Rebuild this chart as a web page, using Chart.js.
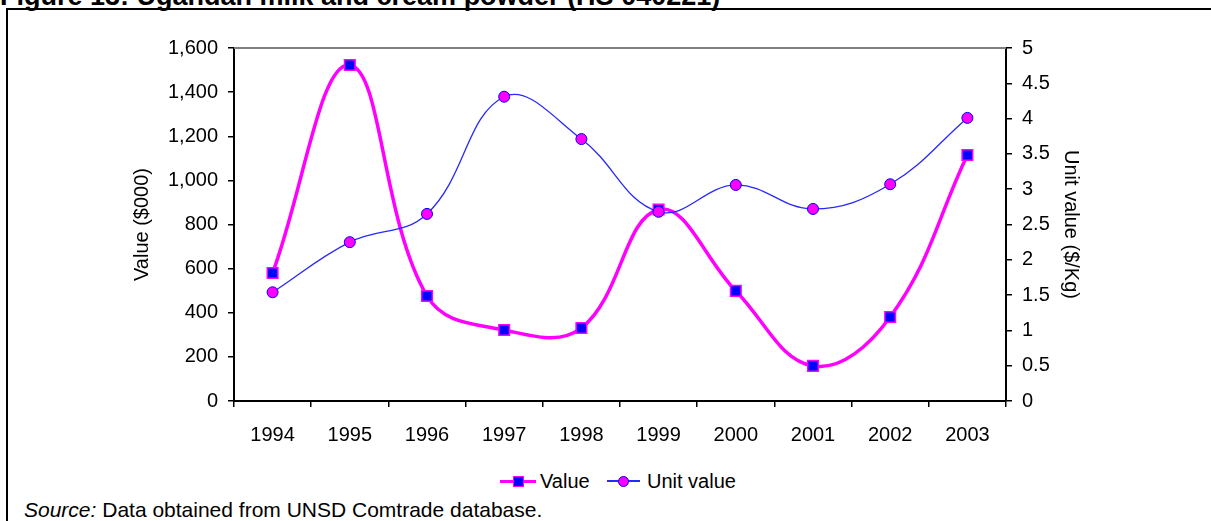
<!DOCTYPE html>
<html>
<head>
<meta charset="utf-8">
<script src="https://cdn.jsdelivr.net/npm/chart.js@4"></script>
<style>
  html, body { margin: 0; padding: 0; background: #fff; width: 1211px; height: 521px; overflow: hidden; position: relative; font-family: "Liberation Sans", Arial, sans-serif; }
  #title { position: absolute; left: 0; top: -17px; font-size: 27px; line-height: 27px; font-weight: bold; white-space: nowrap; color: #000; }
  #frame { position: absolute; left: 6px; top: 8px; width: 1300px; height: 600px; border-left: 2px solid #000; border-top: 2px solid #000; }
  #wrap { position: absolute; left: 0; top: 0; width: 1211px; height: 460px; }
  #legend { position: absolute; top: 469px; left: 500px; height: 24px; font-size: 20px; line-height: 24px; white-space: nowrap; }
  .item { position: absolute; top: 0; height: 24px; }
  .mk { position: absolute; top: 0; height: 24px; }
  .ln { position: absolute; top: 50%; left: 0; right: 0; }
  .sym { position: absolute; top: 50%; left: 50%; box-sizing: border-box; }
  #source { position: absolute; left: 24px; top: 498px; font-size: 21px; line-height: 24px; white-space: nowrap; }
</style>
</head>
<body>
<div id="title">Figure 13: Ugandan milk and cream powder (HS 040221)</div>
<div id="frame"></div>
<div id="wrap"><canvas id="c"></canvas></div>
<div id="legend">
  <div class="mk" style="left:0; width:36px;">
    <div class="ln" style="height:3px; margin-top:-1.5px; background:#FF00FF;"></div>
    <div class="sym" style="width:11px; height:11px; margin:-5.5px 0 0 -5.5px; background:#0000FF; border:1.5px solid #FF00FF;"></div>
  </div>
  <div class="item" style="left:40px;">Value</div>
  <div class="mk" style="left:107px; width:33px;">
    <div class="ln" style="height:1.5px; margin-top:-0.75px; background:#2828FF;"></div>
    <div class="sym" style="width:11px; height:11px; margin:-5.5px 0 0 -5.5px; border-radius:50%; background:#FF00FF; border:1px solid #0000FF;"></div>
  </div>
  <div class="item" style="left:147px;">Unit value</div>
</div>
<div id="source"><i>Source:</i> Data obtained from UNSD Comtrade database.</div>
<script>
const years = ['1994','1995','1996','1997','1998','1999','2000','2001','2002','2003'];
const valueSeries = [580, 1523, 476, 322, 331, 868, 499, 159, 381, 1115];
const unitValueSeries = [1.54, 2.25, 2.65, 4.31, 3.71, 2.68, 3.06, 2.72, 3.07, 4.01];
const valueTicks = [0, 200, 400, 600, 800, 1000, 1200, 1400, 1600];
const unitTicks = [0, 0.5, 1, 1.5, 2, 2.5, 3, 3.5, 4, 4.5, 5];

const FONT = { family: '"Liberation Sans", Arial, sans-serif', size: 20 };

const plotFrame = {
  id: 'plotFrame',
  beforeDatasetsDraw(chart) {
    const { ctx, chartArea } = chart;
    ctx.save();
    ctx.strokeStyle = '#808080';
    ctx.lineWidth = 2;
    ctx.beginPath();
    ctx.moveTo(chartArea.left, chartArea.top);
    ctx.lineTo(chartArea.right, chartArea.top);
    ctx.stroke();
    ctx.restore();
  }
};

new Chart(document.getElementById('c'), {
  type: 'line',
  data: {
    labels: years,
    datasets: [
      {
        label: 'Value',
        data: valueSeries,
        yAxisID: 'y',
        order: 2,
        borderColor: '#FF00FF',
        borderWidth: 3.5,
        tension: 0.4,
        pointStyle: 'rect',
        pointRadius: 7.5,
        pointBackgroundColor: '#0000FF',
        pointBorderColor: '#FF00FF',
        pointBorderWidth: 1.5,
        fill: false
      },
      {
        label: 'Unit value',
        data: unitValueSeries,
        yAxisID: 'y1',
        order: 1,
        borderColor: '#2828FF',
        borderWidth: 1.3,
        tension: 0.4,
        pointStyle: 'circle',
        pointRadius: 5.5,
        pointBackgroundColor: '#FF00FF',
        pointBorderColor: '#0000FF',
        pointBorderWidth: 1,
        fill: false
      }
    ]
  },
  options: {
    responsive: true,
    maintainAspectRatio: false,
    animation: false,
    layout: { padding: { top: 48, left: 0, right: 0, bottom: 0 } },
    plugins: { legend: { display: false }, tooltip: { enabled: false } },
    scales: {
      x: {
        type: 'category',
        offset: true,
        grid: { display: true, offset: true, drawOnChartArea: false, drawTicks: true, tickLength: 6, color: '#000', lineWidth: 1.5 },
        border: { display: true, color: '#000', width: 2 },
        ticks: { color: '#000', font: FONT, padding: 16, maxRotation: 0, autoSkip: false },
        afterFit(s) { s.height = 59; }
      },
      y: {
        position: 'left',
        min: 0, max: 1600,
        afterBuildTicks(s) { s.ticks = valueTicks.map(v => ({ value: v })); },
        grid: { display: true, drawOnChartArea: false, drawTicks: true, tickLength: 6, color: '#000', lineWidth: 1.5 },
        border: { display: true, color: '#000', width: 2 },
        ticks: { color: '#000', font: FONT, padding: 10, callback: v => v.toLocaleString('en-US') },
        title: { display: true, text: 'Value ($000)', color: '#000', font: FONT, padding: { top: 130, bottom: 0 } },
        afterFit(s) { s.width = 234; }
      },
      y1: {
        position: 'right',
        min: 0, max: 5,
        afterBuildTicks(s) { s.ticks = unitTicks.map(v => ({ value: v })); },
        grid: { display: true, drawOnChartArea: false, drawTicks: true, tickLength: 6, color: '#000', lineWidth: 1.5 },
        border: { display: true, color: '#000', width: 2 },
        ticks: { color: '#000', font: FONT, padding: 10, callback: v => String(v) },
        title: { display: true, text: 'Unit value ($/Kg)', color: '#000', font: FONT, padding: { top: 128, bottom: 0 } },
        afterFit(s) { s.width = 205; }
      }
    }
  },
  plugins: [plotFrame]
});
</script>
</body>
</html>
